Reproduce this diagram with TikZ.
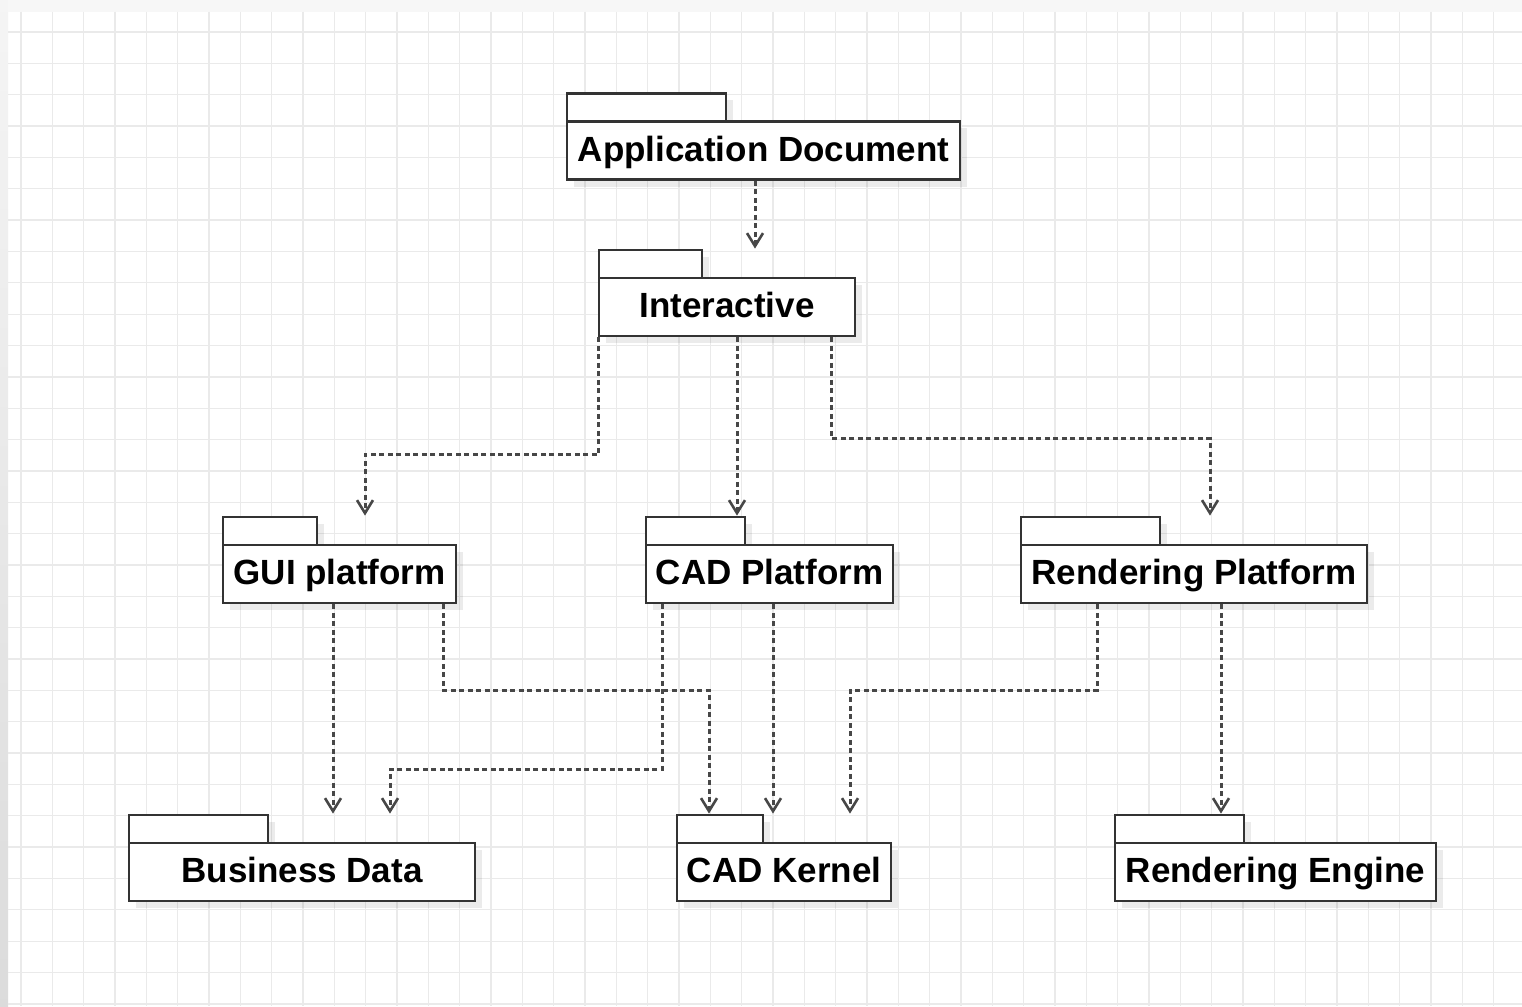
\documentclass[tikz,border=0pt]{standalone}
\usepackage{fontspec}
\setmainfont{Liberation Sans}
\usetikzlibrary{arrows.meta,shadows}

\definecolor{gridline}{HTML}{EAEAEA}
\definecolor{edge}{HTML}{333333}
\definecolor{link}{HTML}{474747}

\tikzset{
  pkgbody/.style={draw=edge, line width=2.8pt, fill=white, inner sep=0pt,
    minimum height=58pt, text height=25pt, text depth=4pt,
    font=\fontsize{35}{42}\selectfont\bfseries,
    drop shadow={shadow xshift=7pt, shadow yshift=-7pt, fill=black, opacity=0.08}},
  pkgtab/.style={draw=edge, line width=2.8pt, fill=white,
    drop shadow={shadow xshift=7pt, shadow yshift=-7pt, fill=black, opacity=0.08}},
  dep/.style={draw=link, line width=3pt, dash pattern=on 5pt off 3.5pt,
    -{Straight Barb[length=13pt, width=16pt, line width=2.6pt]}},
}

% a UML package: tab on top of a named body
\newcommand{\umlpackage}[6]{% name, x, y, width, tab width, label
  \path[pkgtab] (#2-#4/2, #3-29) rectangle ++(#5, -28);
  \node[pkgbody, minimum width=#4 pt] (#1) at (#2, #3) {#6};
}

\begin{document}
\begin{tikzpicture}[x=1pt, y=-1pt]
  \useasboundingbox (0,0) rectangle (1522,1006);

  % canvas and margins
  \fill[white] (0,0) rectangle (1522,1006);
  \shade[top color=black!4, bottom color=black!14] (0,0) rectangle (8,1006);
  \fill[black!3] (8,0) rectangle (1522,12);

  % paper grid
  \foreach \k in {0,...,47}
    \draw[gridline, line width=1.3pt] ({21+31.33*\k},12) -- ({21+31.33*\k},1006);
  \foreach \k in {0,...,31}
    \draw[gridline, line width=1.3pt] (8,{32+31.35*\k}) -- (1522,{32+31.35*\k});

  % packages
  \umlpackage{app}{763.5}{150.5}{393}{159}{Application Document}
  \umlpackage{inter}{727}{307}{256}{103}{Interactive}
  \umlpackage{gui}{339.5}{574}{233}{94}{GUI platform}
  \umlpackage{cadp}{769.5}{574}{247}{99}{CAD Platform}
  \umlpackage{rendp}{1194}{574}{346}{139}{Rendering Platform}
  \umlpackage{bd}{302}{872}{346}{139}{Business Data}
  \umlpackage{cadk}{784}{872}{214}{86}{CAD Kernel}
  \umlpackage{rende}{1275.5}{872}{321}{129}{Rendering Engine}

  % dependencies
  \draw[dep] ([xshift=-8.5pt]app.south) -- ([xshift=28pt, yshift=28pt]inter.north);
  \draw[dep] ([xshift=1pt]inter.south west) -- ++(0,117)
             -| ([xshift=25.5pt, yshift=28pt]gui.north);
  \draw[dep] ([xshift=10pt]inter.south) -- ([xshift=-32.5pt, yshift=28pt]cadp.north);
  \draw[dep] ([xshift=-25pt]inter.south east) -- ++(0,101)
             -| ([xshift=16pt, yshift=28pt]rendp.north);

  \draw[dep] ([xshift=-6.5pt]gui.south) -- ([xshift=31pt, yshift=28pt]bd.north);
  \draw[dep] ([xshift=103.5pt]gui.south) -- ++(0,86)
             -| ([xshift=-75pt, yshift=28pt]cadk.north);
  \draw[dep] ([xshift=-107.5pt]cadp.south) -- ++(0,165)
             -| ([xshift=88pt, yshift=28pt]bd.north);
  \draw[dep] ([xshift=3.5pt]cadp.south) -- ([xshift=-11pt, yshift=28pt]cadk.north);
  \draw[dep] ([xshift=-97pt]rendp.south) -- ++(0,86)
             -| ([xshift=66pt, yshift=28pt]cadk.north);
  \draw[dep] ([xshift=27pt]rendp.south) -- ([xshift=-54.5pt, yshift=28pt]rende.north);
\end{tikzpicture}
\end{document}
